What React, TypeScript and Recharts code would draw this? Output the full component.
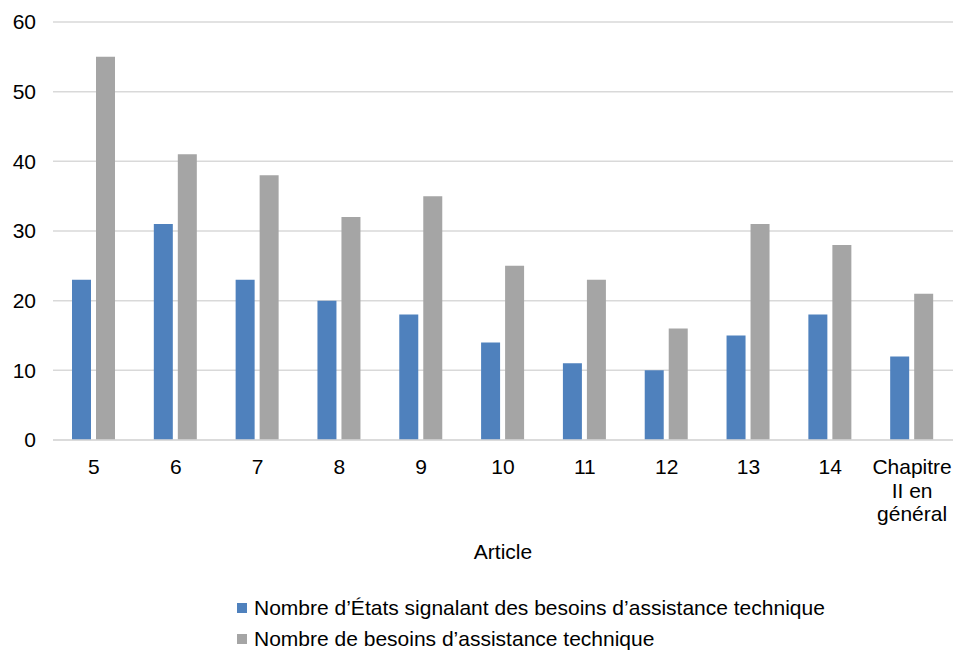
import { BarChart, Bar, XAxis, YAxis, CartesianGrid, Label } from 'recharts';

const categories = ['5', '6', '7', '8', '9', '10', '11', '12', '13', '14', 'Chapitre\nII en\ngénéral'];
const etatsValues = [23, 31, 23, 20, 18, 14, 11, 10, 15, 18, 12];
const besoinsValues = [55, 41, 38, 32, 35, 25, 23, 16, 31, 28, 21];
const yTicks = [0, 10, 20, 30, 40, 50, 60];

const seriesNames = [
  'Nombre d’États signalant des besoins d’assistance technique',
  'Nombre de besoins d’assistance technique',
];
const COLORS = ['#4f81bd', '#a5a5a5'];

const data = categories.map((c, i) => ({
  article: c,
  etats: etatsValues[i],
  besoins: besoinsValues[i],
}));

const FONT = '"Liberation Sans", Arial, sans-serif';
const FS = 21;

function ArticleTick({ x, y, payload }: any) {
  const lines = String(payload.value).split('\n');
  return (
    <text x={x} y={y + 26} textAnchor="middle" fontSize={FS} fill="#000" fontFamily={FONT}>
      {lines.map((l, i) => (
        <tspan key={i} x={x} dy={i === 0 ? 0 : 23.5}>
          {l}
        </tspan>
      ))}
    </text>
  );
}

function App() {
  return (
    <div style={{ position: 'absolute', left: 0, top: 0, width: 954, height: 650, background: '#fff', fontFamily: FONT }}>
      <BarChart
        width={954}
        height={650}
        data={data}
        margin={{ top: 22, right: 1, left: 0, bottom: 0 }}
        barSize={19}
        barGap={5}
      >
        <CartesianGrid vertical={false} stroke="#d9d9d9" strokeWidth={1.5} />
        <XAxis
          dataKey="article"
          height={210}
          tickLine={false}
          axisLine={{ stroke: '#d9d9d9', strokeWidth: 1.5 }}
          tick={<ArticleTick />}
          interval={0}
        >
          <Label value="Article" position="insideTop" offset={104} fontSize={FS} fill="#000" fontFamily={FONT} />
        </XAxis>
        <YAxis
          width={53}
          domain={[0, 60]}
          ticks={yTicks}
          axisLine={false}
          tickLine={false}
          tickMargin={11}
          tick={{ fontSize: FS, fill: '#000', fontFamily: FONT }}
        />
        <Bar dataKey="etats" name={seriesNames[0]} fill={COLORS[0]} isAnimationActive={false} />
        <Bar dataKey="besoins" name={seriesNames[1]} fill={COLORS[1]} isAnimationActive={false} />
      </BarChart>
      <div style={{ position: 'absolute', left: 237, top: 592, fontSize: FS, color: '#000', lineHeight: '31px' }}>
        {seriesNames.map((n, i) => (
          <div key={n} style={{ display: 'flex', alignItems: 'center', whiteSpace: 'nowrap' }}>
            <span style={{ display: 'inline-block', width: 10, height: 10, background: COLORS[i], marginRight: 7 }} />
            {n}
          </div>
        ))}
      </div>
    </div>
  );
}

export default App;
